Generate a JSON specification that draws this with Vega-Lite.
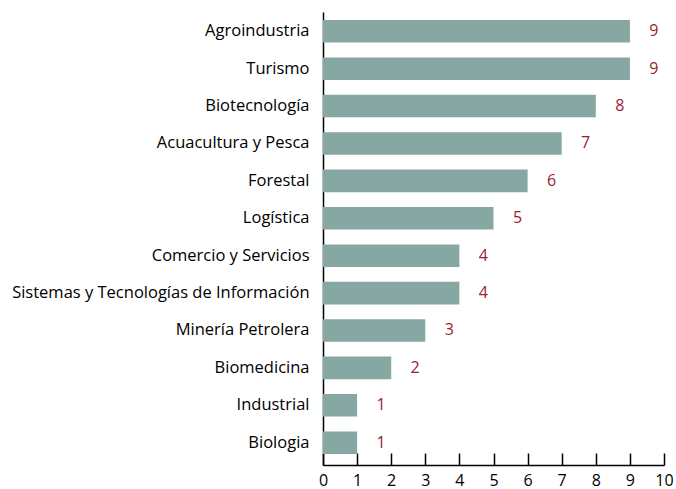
{
  "$schema": "https://vega.github.io/schema/vega-lite/v6.json",
  "width": 341,
  "height": 453,
  "autosize": {"type": "none"},
  "padding": {"left": 323, "top": 12, "right": 12, "bottom": 24},
  "background": "white",
  "config": {"view": {"stroke": null}, "font": "Open Sans"},
  "data": {
    "values": [
      {"sector": "Agroindustria", "value": 9},
      {"sector": "Turismo", "value": 9},
      {"sector": "Biotecnología", "value": 8},
      {"sector": "Acuacultura y Pesca", "value": 7},
      {"sector": "Forestal", "value": 6},
      {"sector": "Logística", "value": 5},
      {"sector": "Comercio y Servicios", "value": 4},
      {"sector": "Sistemas y Tecnologías de Información", "value": 4},
      {"sector": "Minería Petrolera", "value": 3},
      {"sector": "Biomedicina", "value": 2},
      {"sector": "Industrial", "value": 1},
      {"sector": "Biologia", "value": 1}
    ]
  },
  "encoding": {
    "y": {
      "field": "sector",
      "type": "nominal",
      "sort": null,
      "scale": {"paddingInner": 0.396, "paddingOuter": 0.254, "align": 0.42},
      "axis": {
        "title": null,
        "ticks": false,
        "domainColor": "black",
        "domainWidth": 1.5,
        "labelFont": "Open Sans",
        "labelFontSize": 16.5,
        "labelColor": "black",
        "labelPadding": 14,
        "labelLimit": 400
      }
    },
    "x": {
      "field": "value",
      "type": "quantitative",
      "scale": {"domain": [0, 10], "nice": false},
      "axis": {
        "title": null,
        "grid": false,
        "values": [0,1,2,3,4,5,6,7,8,9,10],
        "tickSize": -12,
        "tickWidth": 1.5,
        "tickColor": "black",
        "domainColor": "black",
        "domainWidth": 1.5,
        "labelFont": "Open Sans",
        "labelFontSize": 16,
        "labelColor": "black",
        "labelPadding": 19,
        "labelFlush": false,
        "labelOverlap": false
      }
    }
  },
  "layer": [
    {"mark": {"type": "bar", "color": "#86a7a2"}},
    {
      "mark": {"type": "text", "color": "#9b1c31", "align": "center", "dx": 24, "font": "Open Sans", "fontSize": 16},
      "encoding": {"text": {"field": "value", "type": "quantitative"}}
    }
  ]
}
